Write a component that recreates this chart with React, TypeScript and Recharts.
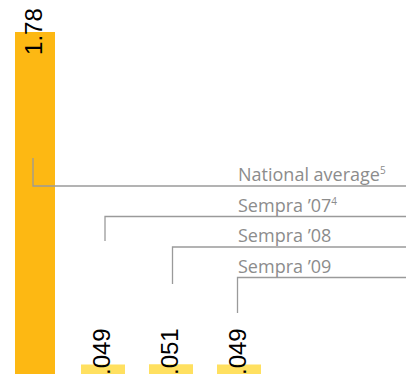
import React from 'react';
import { BarChart, Bar, XAxis, YAxis, Cell, LabelList, Rectangle } from 'recharts';

// ---- data ----
const categories = ['National average', 'Sempra ’07', 'Sempra ’08', 'Sempra ’09'];
const values = [1.78, 0.049, 0.051, 0.049];
const valueLabels = ['1.78', '.049', '.051', '.049'];
const footnotes = ['5', '4', '', ''];

// ---- styling / annotation layout ----
const barColors = ['#FDB813', '#FFE060', '#FFE060', '#FFE060'];
const calloutLineY = [186, 216.5, 247, 277.5];
const calloutTailY = [158, 241, 284, 313];
const calloutTextX = 238;
const CHART_W = 406;
const CHART_H = 374;

const data = categories.map((c, i) => ({ name: c, value: values[i], label: valueLabels[i] }));

const BarShape = (props: any) => {
  const { x, y, width, height, index, fill } = props;
  const cx = x + width / 2;
  const inset = index === 0 ? 2 : 0;
  const lineY = calloutLineY[index];
  const tailY = calloutTailY[index];
  const vx = index === 0 ? cx - 2 : cx + (index === 1 ? 2 : index === 3 ? -1.5 : 1.5);
  return (
    <g>
      <Rectangle x={x + inset} y={y} width={width - inset * 2} height={height + 2} fill={fill} />
      <path
        d={`M${vx},${tailY} L${vx},${lineY} L${CHART_W},${lineY}`}
        fill="none"
        stroke="#9a9a9a"
        strokeWidth={1.3}
      />
      <text
        x={calloutTextX}
        y={lineY - 5}
        fill="#8c8c8c"
        fontFamily="'Open Sans', sans-serif"
        fontSize={18}
      >
        {categories[index]}
        {footnotes[index] ? (
          <tspan fontSize={10} dy={-7}>{footnotes[index]}</tspan>
        ) : null}
      </text>
    </g>
  );
};

const ValueLabel = (props: any) => {
  const vb = props.viewBox || {};
  const x = props.x ?? vb.x;
  const y = props.y ?? vb.y;
  const width = props.width ?? vb.width;
  const height = props.height ?? vb.height;
  const tx = x + width / 2 + 7;
  const ty = y + Math.min(23, height + 1);
  return (
    <text
      x={tx}
      y={ty}
      transform={`rotate(-90 ${tx} ${ty})`}
      textAnchor="start"
      fill="#000"
      fontFamily="'Liberation Sans', Arial, sans-serif"
      fontSize={24}
    >
      {props.value}
    </text>
  );
};

export default function App() {
  return (
    <div style={{ position: 'absolute', left: 0, top: 0, width: CHART_W, height: CHART_H, background: '#fff', overflow: 'hidden' }}>
      <BarChart
        width={CHART_W}
        height={CHART_H}
        data={data}
        margin={{ top: 0, right: 133, bottom: 0, left: 1 }}
        barCategoryGap={12}
      >
        <XAxis dataKey="name" hide />
        <YAxis hide domain={[0, 1.946]} />
        <Bar dataKey="value" barSize={44} isAnimationActive={false} shape={BarShape}>
          {data.map((d, i) => (
            <Cell key={d.name} fill={barColors[i]} />
          ))}
          <LabelList dataKey="label" content={ValueLabel} />
        </Bar>
      </BarChart>
    </div>
  );
}
